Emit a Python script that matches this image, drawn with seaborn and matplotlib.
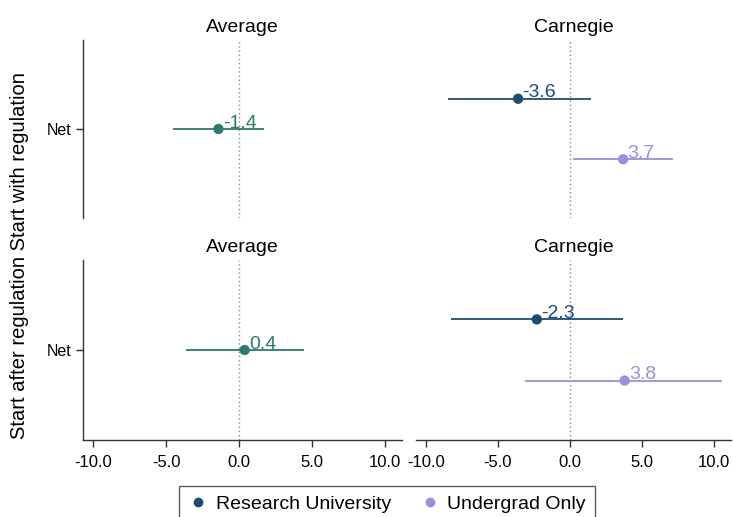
import numpy as np
import pandas as pd
import matplotlib
matplotlib.use("Agg")
import matplotlib.pyplot as plt
import seaborn as sns
from matplotlib.lines import Line2D

# estimates and 95% intervals
rows = ["Start with regulation", "Start after regulation"]
avg_est = [-1.4, 0.4]
avg_lo = [-4.5, -3.6]
avg_hi = [1.7, 4.5]

groups = ["Research University", "Undergrad Only"]
carn_est = [[-3.6, 3.7], [-2.3, 3.8]]
carn_lo = [[-8.5, 0.2], [-8.3, -3.1]]
carn_hi = [[1.5, 7.2], [3.7, 10.6]]

x_ticks = [-10, -5, 0, 5, 10]

avg_color = "#2e7a6d"
palette = {"Research University": "#1c4b73", "Undergrad Only": "#9a8fda"}
offsets = {"Research University": 0.34, "Undergrad Only": -0.34}

sns.set_style("ticks")
plt.rcParams["font.family"] = ["Liberation Sans", "DejaVu Sans"]
plt.rcParams["text.color"] = "black"
plt.rcParams["xtick.color"] = "black"
plt.rcParams["ytick.color"] = "black"

fig = plt.figure(figsize=(7.33, 5.17), dpi=100)

W, H = 733, 517
def box(x0, y0, x1, y1):
    return [x0 / W, 1 - y1 / H, (x1 - x0) / W, (y1 - y0) / H]

col_px = [(83, 402), (416, 731)]
row_px = [(40, 218), (260, 440)]

def style_axis(ax, r, c):
    ax.set_xlim(-10.7, 11.2)
    ax.set_ylim(-1, 1)
    ax.axvline(0, color="#888888", ls=(0, (1, 2)), lw=1, zorder=0)
    for s in ["top", "right"]:
        ax.spines[s].set_visible(False)
    ax.spines["left"].set_visible(c == 0)
    ax.spines["bottom"].set_visible(r == 1)
    for s in ["left", "bottom"]:
        ax.spines[s].set_color("#333333")
        ax.spines[s].set_linewidth(1)
    if c == 0:
        ax.set_yticks([0])
        ax.set_yticklabels(["Net"], fontsize=11.5)
    else:
        ax.set_yticks([])
    ax.tick_params(axis="y", length=5, width=1, color="#333333")
    if r == 1:
        ax.set_xticks(x_ticks)
        ax.set_xticklabels([f"{v:.1f}" for v in x_ticks], fontsize=12)
        ax.tick_params(axis="x", length=5, width=1, color="#333333", pad=6)
    else:
        ax.set_xticks([])
    ax.set_xlabel("")
    ax.set_ylabel("")

for r in range(2):
    # Average panel
    ax = fig.add_axes(box(col_px[0][0], row_px[r][0], col_px[0][1], row_px[r][1]))
    df = pd.DataFrame({"est": [avg_est[r]], "lo": [avg_lo[r]], "hi": [avg_hi[r]], "y": [0.0]})
    ax.hlines(df["y"], df["lo"], df["hi"], color=avg_color, lw=1.3)
    sns.scatterplot(data=df, x="est", y="y", color=avg_color, s=55, edgecolor="none",
                    ax=ax, zorder=3)
    for _, row in df.iterrows():
        ax.annotate(f"{row['est']:.1f}", (row["est"], row["y"]), xytext=(3, 1),
                    textcoords="offset points", color=avg_color, fontsize=14,
                    ha="left", va="baseline")
    style_axis(ax, r, 0)
    ax.set_title("Average", fontsize=14, pad=6)

    # Carnegie panel
    ax = fig.add_axes(box(col_px[1][0], row_px[r][0], col_px[1][1], row_px[r][1]))
    df = pd.DataFrame({"group": groups, "est": carn_est[r], "lo": carn_lo[r], "hi": carn_hi[r]})
    df["y"] = df["group"].map(offsets)
    for _, row in df.iterrows():
        ax.hlines(row["y"], row["lo"], row["hi"], color=palette[row["group"]], lw=1.3)
    sns.scatterplot(data=df, x="est", y="y", hue="group", palette=palette, s=55,
                    edgecolor="none", legend=False, ax=ax, zorder=3)
    for _, row in df.iterrows():
        ax.annotate(f"{row['est']:.1f}", (row["est"], row["y"]), xytext=(3, 1),
                    textcoords="offset points", color=palette[row["group"]], fontsize=14,
                    ha="left", va="baseline")
    style_axis(ax, r, 1)
    ax.set_title("Carnegie", fontsize=14, pad=6)

fig.text(20 / W, 1 - 256 / H, "Start after regulation Start with regulation", rotation=90,
         ha="center", va="center", fontsize=14.5)

handles = [Line2D([], [], ls="none", marker="o", markersize=7, markeredgewidth=0,
                  color=palette[g]) for g in groups]
leg = fig.legend(handles, groups, loc="upper center", bbox_to_anchor=(387 / W, 1 - 476 / H),
                 ncol=2, fontsize=14, frameon=True, fancybox=False, handletextpad=0.4,
                 columnspacing=1.5, handlelength=1.0, borderpad=0.5)
leg.get_frame().set_edgecolor("#333333")
leg.get_frame().set_linewidth(1)

fig.savefig("out.png", dpi=100)
